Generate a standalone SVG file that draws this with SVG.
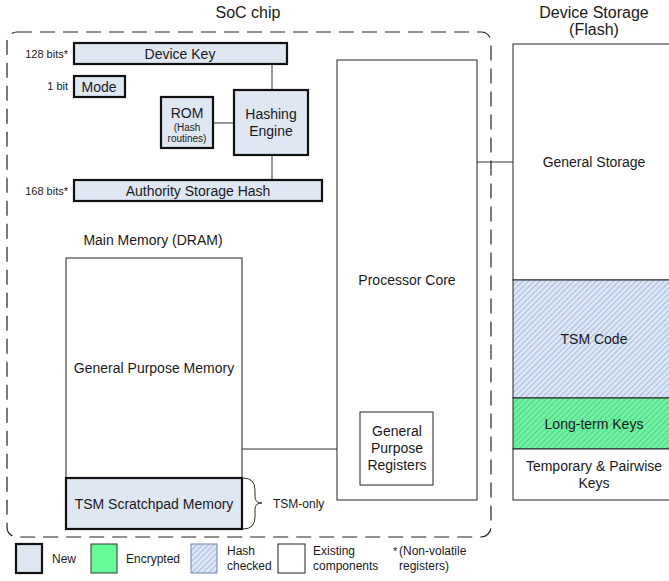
<svg xmlns="http://www.w3.org/2000/svg" width="669" height="581" viewBox="0 0 669 581">
  <defs>
    <pattern id="hatchBlue" patternUnits="userSpaceOnUse" width="4" height="4" patternTransform="rotate(45)">
      <rect width="4" height="4" fill="#dde6f4"/>
      <line x1="0" y1="0" x2="0" y2="4" stroke="#86a6d8" stroke-width="1.3"/>
    </pattern>
    <pattern id="hatchGreen" patternUnits="userSpaceOnUse" width="4" height="4" patternTransform="rotate(45)">
      <rect width="4" height="4" fill="#6cf59c"/>
      <line x1="0" y1="0" x2="0" y2="4" stroke="#4aa889" stroke-width="1.1"/>
    </pattern>
    <style>
      text { font-family: "Liberation Sans", Arial, sans-serif; fill: #1a1a1a; }
      .t16 { font-size: 16px; }
      .t14 { font-size: 14px; }
      .t12 { font-size: 12px; }
      .t11 { font-size: 11px; }
      .t10 { font-size: 10px; }
      .mid { text-anchor: middle; }
      .end { text-anchor: end; }
      .new { fill: #dfe7f3; stroke: #111; stroke-width: 2.2; }
      .plain { fill: #fff; stroke: #222; stroke-width: 1; }
      .wire { fill: none; stroke: #333; stroke-width: 1; }
      .chip { fill: none; stroke: #222; stroke-width: 1.2; stroke-dasharray: 15 8; }
    </style>
  </defs>

  <!-- chip boundary -->
  <g id="soc-chip">
    <rect class="chip" x="7" y="32" width="484" height="505" rx="10"/>
    <text class="t16 mid" x="248" y="18">SoC chip</text>
  </g>

  <!-- connectors -->
  <g id="connectors">
    <line class="wire" x1="272" y1="64" x2="272" y2="90"/>
    <line class="wire" x1="213" y1="123" x2="234" y2="123"/>
    <line class="wire" x1="272" y1="155" x2="272" y2="180"/>
    <line class="wire" x1="242" y1="449" x2="360" y2="449"/>
    <line class="wire" x1="477" y1="162" x2="513" y2="162"/>
    <path class="wire" d="M243,478 Q255,478 255,490 L255,497 Q255,503 262,503 Q255,503 255,509 L255,517 Q255,529 243,529"/>
  </g>

  <g id="device-key">
    <rect class="new" x="74" y="43" width="213" height="21"/>
    <text class="t14 mid" x="180" y="59">Device Key</text>
    <text class="t11 end" x="68" y="58">128 bits*</text>
  </g>

  <g id="mode">
    <rect class="new" x="74" y="76" width="51" height="21"/>
    <text class="t14 mid" x="99" y="92">Mode</text>
    <text class="t11 end" x="68" y="90">1 bit</text>
  </g>

  <g id="rom">
    <rect class="new" x="161" y="97" width="52" height="51"/>
    <text class="t14 mid" x="187" y="118">ROM</text>
    <text class="t10 mid" x="187" y="131">(Hash</text>
    <text class="t10 mid" x="187" y="142">routines)</text>
  </g>

  <g id="hashing-engine">
    <rect class="new" x="234" y="90" width="74" height="65"/>
    <text class="t14 mid" x="271" y="119">Hashing</text>
    <text class="t14 mid" x="271" y="136">Engine</text>
  </g>

  <g id="authority-storage-hash">
    <rect class="new" x="74" y="180" width="248" height="21"/>
    <text class="t14 mid" x="198" y="196">Authority Storage Hash</text>
    <text class="t11 end" x="68" y="195">168 bits*</text>
  </g>

  <g id="main-memory">
    <text class="t14 mid" x="153" y="245">Main Memory (DRAM)</text>
    <rect class="plain" x="66" y="258" width="176" height="271"/>
    <text class="t14 mid" x="154" y="373">General Purpose Memory</text>
  </g>

  <g id="tsm-scratchpad">
    <rect class="new" x="66" y="478" width="176" height="51"/>
    <text class="t14 mid" x="154" y="509">TSM Scratchpad Memory</text>
    <text class="t12" x="273" y="508">TSM-only</text>
  </g>

  <g id="processor-core">
    <rect class="plain" x="337" y="60" width="140" height="440"/>
    <text class="t14 mid" x="407" y="285">Processor Core</text>
  </g>

  <g id="general-purpose-registers">
    <rect class="plain" x="360" y="412" width="73" height="73"/>
    <text class="t14 mid" x="397" y="436">General</text>
    <text class="t14 mid" x="397" y="453">Purpose</text>
    <text class="t14 mid" x="397" y="470">Registers</text>
  </g>

  <g id="device-storage">
    <text class="t16 mid" x="594" y="18">Device Storage</text>
    <text class="t16 mid" x="594" y="35">(Flash)</text>
    <rect class="plain" x="513" y="44" width="170" height="236"/>
    <text class="t14 mid" x="594" y="167">General Storage</text>
    <rect x="513" y="280" width="170" height="118" fill="url(#hatchBlue)" stroke="#222" stroke-width="1"/>
    <text class="t14 mid" x="594" y="344">TSM Code</text>
    <rect x="513" y="398" width="170" height="51" fill="url(#hatchGreen)" stroke="#222" stroke-width="1"/>
    <text class="t14 mid" x="594" y="429">Long-term Keys</text>
    <rect class="plain" x="513" y="449" width="170" height="51"/>
    <text class="t14 mid" x="594" y="471">Temporary &amp; Pairwise</text>
    <text class="t14 mid" x="594" y="488">Keys</text>
  </g>

  <g id="legend">
    <rect class="new" x="16" y="544" width="26" height="29"/>
    <text class="t12" x="52" y="563">New</text>
    <rect x="91" y="544" width="26" height="29" fill="#66fa98" stroke="#333" stroke-width="1"/>
    <text class="t12" x="126" y="563">Encrypted</text>
    <rect x="191" y="544" width="26" height="29" fill="url(#hatchBlue)" stroke="#6f85a8" stroke-width="1"/>
    <text class="t12" x="227" y="555">Hash</text>
    <text class="t12" x="227" y="570">checked</text>
    <rect class="plain" x="278" y="544" width="27" height="29"/>
    <text class="t12" x="313" y="555">Existing</text>
    <text class="t12" x="313" y="570">components</text>
    <text class="t11" x="393" y="555">*</text>
    <text class="t12" x="399" y="555">(Non-volatile</text>
    <text class="t12" x="399" y="570">registers)</text>
  </g>
</svg>
